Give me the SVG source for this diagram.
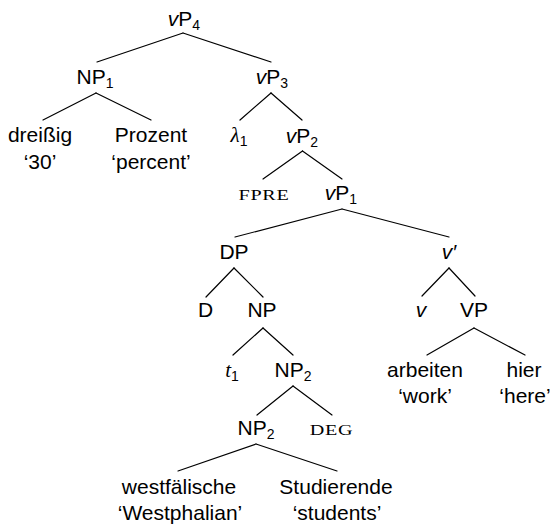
<svg xmlns="http://www.w3.org/2000/svg" width="554" height="527" viewBox="0 0 554 527">
<style>
text{font-family:"Liberation Sans",Arial,sans-serif;font-size:21px;fill:#000;text-anchor:middle}
.i{font-style:italic}
.m{font-family:"Liberation Serif","Times New Roman",serif;font-style:italic}
.sc{font-family:"Liberation Serif","Times New Roman",serif;font-size:15.5px;letter-spacing:0.5px}
.sub{font-size:14px}
#edges line{stroke:#000;stroke-width:1.2;stroke-linecap:round}
</style>
<rect width="554" height="527" fill="#fff"/>
<g id="edges">
<line x1="183" y1="33" x2="97" y2="62"/>
<line x1="183" y1="33" x2="271" y2="62"/>
<line x1="96" y1="93" x2="43" y2="120"/>
<line x1="96" y1="93" x2="151" y2="120"/>
<line x1="271" y1="93" x2="240" y2="120"/>
<line x1="271" y1="93" x2="302" y2="120"/>
<line x1="302.5" y1="151" x2="263" y2="179"/>
<line x1="302.5" y1="151" x2="342" y2="179"/>
<line x1="342" y1="209" x2="235" y2="237"/>
<line x1="342" y1="209" x2="449" y2="237"/>
<line x1="234" y1="268" x2="206" y2="297"/>
<line x1="234" y1="268" x2="263" y2="297"/>
<line x1="449" y1="268" x2="422" y2="296"/>
<line x1="449" y1="268" x2="475" y2="296"/>
<line x1="263" y1="328" x2="233" y2="355"/>
<line x1="263" y1="328" x2="293" y2="355"/>
<line x1="474" y1="328" x2="427" y2="355"/>
<line x1="474" y1="328" x2="525" y2="355"/>
<line x1="293" y1="386" x2="257" y2="415"/>
<line x1="293" y1="386" x2="332" y2="415"/>
<line x1="256" y1="444" x2="178" y2="471"/>
<line x1="256" y1="444" x2="337" y2="471"/>
</g>
<g id="vP4"><text x="184" y="26"><tspan class="i">v</tspan>P<tspan class="sub" dy="4">4</tspan></text></g>
<g id="NP1"><text x="95" y="84">NP<tspan class="sub" dy="4">1</tspan></text></g>
<g id="vP3"><text x="272" y="84"><tspan class="i">v</tspan>P<tspan class="sub" dy="4">3</tspan></text></g>
<g id="dreissig"><text x="40" y="142">dreißig</text><text x="40" y="169">‘30’</text></g>
<g id="Prozent"><text x="151" y="142">Prozent</text><text x="151" y="169">‘percent’</text></g>
<g id="lambda1"><text x="239" y="142"><tspan class="m">λ</tspan><tspan class="sub" dy="4">1</tspan></text></g>
<g id="vP2"><text x="302" y="143"><tspan class="i">v</tspan>P<tspan class="sub" dy="4">2</tspan></text></g>
<g id="FPRE"><text class="sc" transform="translate(264,200) scale(1.3,1)">FPRE</text></g>
<g id="vP1"><text x="341" y="200"><tspan class="i">v</tspan>P<tspan class="sub" dy="4">1</tspan></text></g>
<g id="DP"><text x="234" y="259">DP</text></g>
<g id="vbar"><text class="i" x="449" y="259">v′</text></g>
<g id="D"><text x="205.5" y="317">D</text></g>
<g id="NP"><text x="262" y="317">NP</text></g>
<g id="v"><text class="i" x="421" y="317">v</text></g>
<g id="VP"><text x="474" y="317">VP</text></g>
<g id="t1"><text x="232" y="377"><tspan class="m">t</tspan><tspan class="sub" dy="4">1</tspan></text></g>
<g id="NP2a"><text x="293" y="377">NP<tspan class="sub" dy="4">2</tspan></text></g>
<g id="arbeiten"><text x="425" y="377">arbeiten</text><text x="425" y="403">‘work’</text></g>
<g id="hier"><text x="524" y="377">hier</text><text x="525" y="403">‘here’</text></g>
<g id="NP2b"><text x="256" y="435">NP<tspan class="sub" dy="4">2</tspan></text></g>
<g id="DEG"><text class="sc" transform="translate(331.5,435) scale(1.3,1)">DEG</text></g>
<g id="westfaelische"><text x="179" y="494">westfälische</text><text x="180" y="520">‘Westphalian’</text></g>
<g id="Studierende"><text x="336" y="494">Studierende</text><text x="337" y="520">‘students’</text></g>
</svg>
